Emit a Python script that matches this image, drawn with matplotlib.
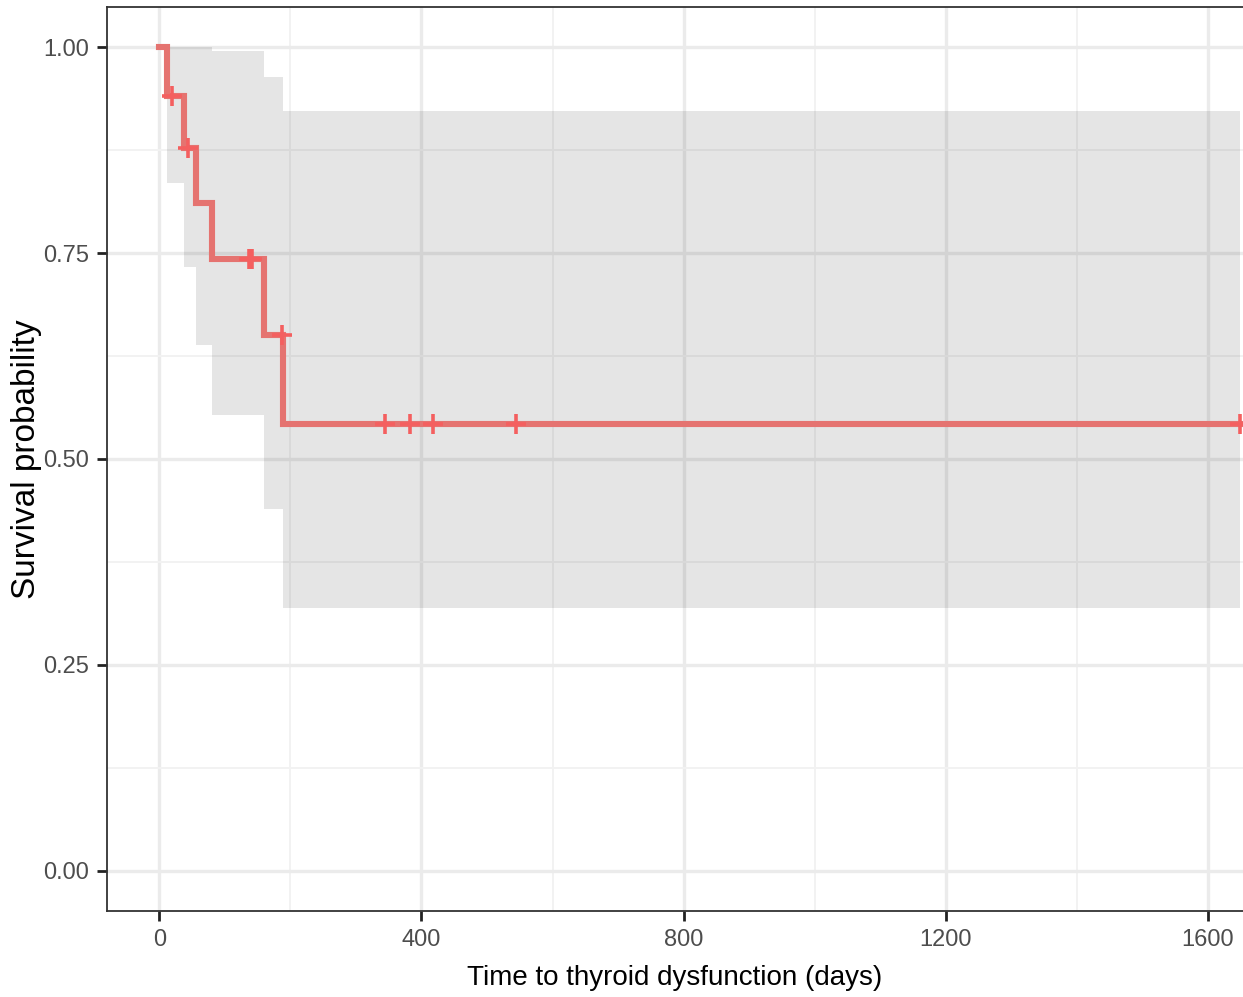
import matplotlib
matplotlib.use("Agg")
import matplotlib.pyplot as plt
from matplotlib.ticker import MultipleLocator

# Kaplan-Meier steps
step_times = [0, 11, 37, 56, 80, 160, 189]
surv = [1.0, 0.941, 0.878, 0.811, 0.743, 0.650, 0.542]
# confidence band for each step (from the first event on)
band_times = [11, 37, 56, 80, 160, 189]
band_upper = [1.0, 1.0, 1.0, 0.996, 0.964, 0.923]
band_lower = [0.835, 0.733, 0.639, 0.554, 0.439, 0.319]
end_time = 1650

censor_times = [19, 43, 137, 139, 141, 187, 345, 383, 418, 545, 1650]

font = ["Liberation Sans", "DejaVu Sans"]


def surv_at(t):
    s = surv[0]
    for st, v in zip(step_times, surv):
        if st <= t:
            s = v
    return s


fig = plt.figure(figsize=(12.43, 9.97), dpi=100)
ax = fig.add_axes([0.0861, 0.0863, 0.9139, 0.9067])

# grid like theme_bw
ax.xaxis.set_major_locator(MultipleLocator(400))
ax.xaxis.set_minor_locator(MultipleLocator(200))
ax.yaxis.set_major_locator(MultipleLocator(0.25))
ax.yaxis.set_minor_locator(MultipleLocator(0.125))
ax.grid(True, which="major", color="#ebebeb", lw=2.4, zorder=0)
ax.grid(True, which="minor", color="#f2f2f2", lw=1.4, zorder=0)
ax.set_axisbelow(True)

# band
bx = band_times + [end_time]
ax.fill_between(bx, band_lower + [band_lower[-1]], band_upper + [band_upper[-1]],
                step="post", color="black", alpha=0.1, lw=0, zorder=1)

# curve
ax.step(step_times + [end_time], surv + [surv[-1]], where="post",
        color="#e57370", lw=4.4, zorder=3, solid_joinstyle="miter")
ax.plot(censor_times, [surv_at(t) for t in censor_times], ls="none",
        marker="+", ms=15, mew=2.6, color="#f45f5f", zorder=4)

ax.set_xlim(-80, 1654)
ax.set_ylim(-0.049, 1.049)
ax.set_xticks([0, 400, 800, 1200, 1600])
ax.set_yticks([0, 0.25, 0.5, 0.75, 1.0])
ax.set_yticklabels(["0.00", "0.25", "0.50", "0.75", "1.00"])

for s in ["left", "bottom", "top"]:
    ax.spines[s].set_color("#333333")
    ax.spines[s].set_linewidth(1.3)
ax.spines["right"].set_visible(False)

ax.tick_params(which="major", length=7, width=2, color="#222222",
               labelsize=17, labelcolor="#4d4d4d", pad=6)
ax.tick_params(which="minor", length=0)
for lab in ax.get_xticklabels() + ax.get_yticklabels():
    lab.set_family(font)

ax.set_xlabel("Time to thyroid dysfunction (days)", fontsize=20,
              family=font, labelpad=10)
ax.set_ylabel("Survival probability", fontsize=24, family=font, labelpad=1)

fig.savefig("out.png", dpi=100)
